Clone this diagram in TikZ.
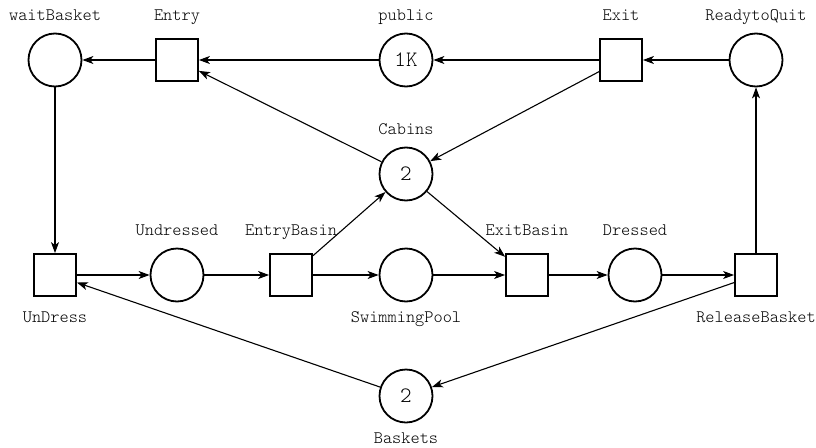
\documentclass[tikz,border=0pt]{standalone}
\usepackage{fontspec}
\setmonofont{Latin Modern Mono Light}
\usetikzlibrary{arrows.meta}
\begin{document}
\begin{tikzpicture}[x=1pt,y=-1pt,
  place/.style={circle,draw,line width=1.8pt,minimum size=53pt,inner sep=0pt,font=\ttfamily\fontsize{22}{22}\selectfont},
  trans/.style={rectangle,draw,line width=1.8pt,minimum size=42pt,inner sep=0pt},
  lbl/.style={font=\ttfamily\fontsize{17.5}{18}\selectfont,inner sep=0pt,anchor=base},
  arc/.style={line width=1.1pt,-{Stealth[length=11pt,width=8pt,inset=3pt]}}]
\useasboundingbox (0,0) rectangle (816,447);
% places and transitions
\node[place] (waitBasket) at (55,60) {};
\node[trans] (Entry) at (177,60) {};
\node[place] (public) at (406,60) {1K};
\node[trans] (Exit) at (621,60) {};
\node[place] (ReadytoQuit) at (756,60) {};
\node[place] (Cabins) at (406,174) {2};
\node[trans] (UnDress) at (55,275) {};
\node[place] (Undressed) at (177,275) {};
\node[trans] (EntryBasin) at (291,275) {};
\node[place] (SwimmingPool) at (406,275) {};
\node[trans] (ExitBasin) at (527,275) {};
\node[place] (Dressed) at (635,275) {};
\node[trans] (ReleaseBasket) at (756,275) {};
\node[place] (Baskets) at (406,396) {2};
% labels
\node[lbl] (lwaitBasket) at (55,20) {waitBasket};
\node[lbl] (lEntry) at (177,20) {Entry};
\node[lbl] (lpublic) at (406,20) {public};
\node[lbl] (lExit) at (621,20) {Exit};
\node[lbl] (lReadytoQuit) at (756,20) {ReadytoQuit};
\node[lbl] (lCabins) at (406,134) {Cabins};
\node[lbl] (lUndressed) at (177,235) {Undressed};
\node[lbl] (lEntryBasin) at (291,235) {EntryBasin};
\node[lbl] (lExitBasin) at (527,235) {ExitBasin};
\node[lbl] (lDressed) at (635,235) {Dressed};
\node[lbl] (lUnDress) at (55,322) {UnDress};
\node[lbl] (lSwimmingPool) at (406,322) {SwimmingPool};
\node[lbl] (lReleaseBasket) at (756,322) {ReleaseBasket};
\node[lbl] (lBaskets) at (406,443) {Baskets};
% arcs
\draw[arc] (Entry) -- (waitBasket);
\draw[arc] (public) -- (Entry);
\draw[arc] (Exit) -- (public);
\draw[arc] (ReadytoQuit) -- (Exit);
\draw[arc] (Cabins) -- (Entry);
\draw[arc] (Exit) -- (Cabins);
\draw[arc] (waitBasket) -- (UnDress);
\draw[arc] (UnDress) -- (Undressed);
\draw[arc] (Undressed) -- (EntryBasin);
\draw[arc] (EntryBasin) -- (Cabins);
\draw[arc] (EntryBasin) -- (SwimmingPool);
\draw[arc] (SwimmingPool) -- (ExitBasin);
\draw[arc] (Cabins) -- (ExitBasin);
\draw[arc] (ExitBasin) -- (Dressed);
\draw[arc] (Dressed) -- (ReleaseBasket);
\draw[arc] (ReleaseBasket) -- (ReadytoQuit);
\draw[arc] (ReleaseBasket) -- (Baskets);
\draw[arc] (Baskets) -- (UnDress);
\end{tikzpicture}
\end{document}
